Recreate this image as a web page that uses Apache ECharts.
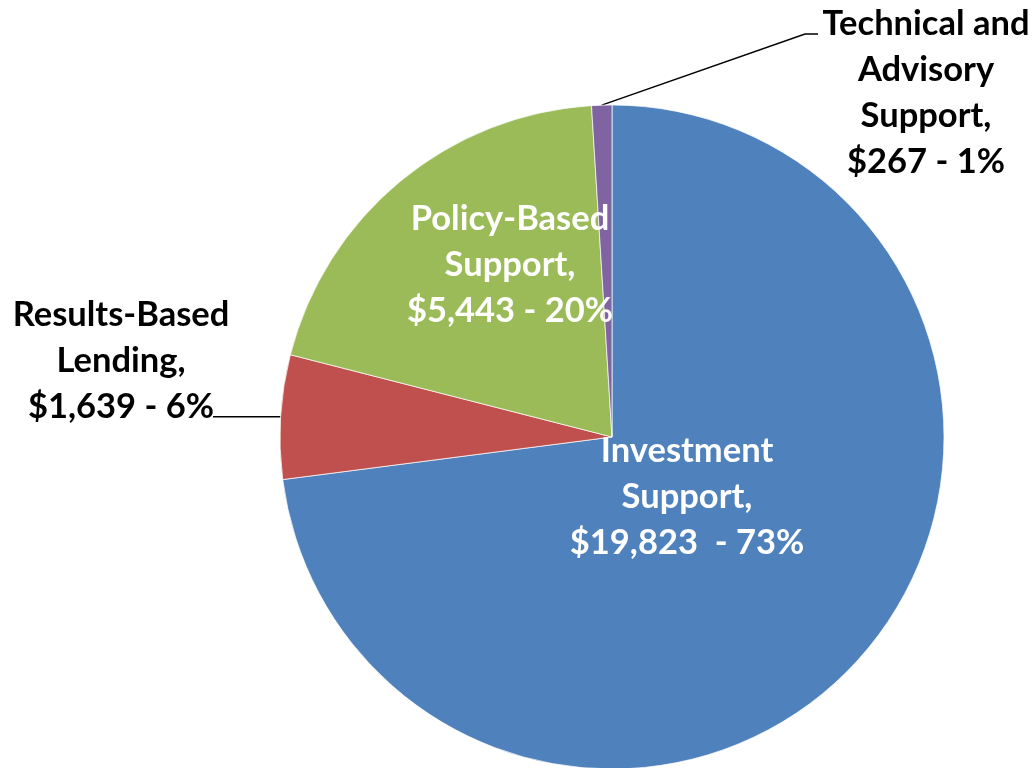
<!DOCTYPE html>
<html>
<head>
<meta charset="utf-8">
<script src="https://cdn.jsdelivr.net/npm/echarts@6/dist/echarts.min.js"></script>
<style>
  html, body { margin: 0; padding: 0; background: #fff; }
  #pie { width: 1035px; height: 768px; }
</style>
</head>
<body>
<div id="pie"></div>
<script>
// slice names, amounts and the shares printed on the labels
const names = ['Investment\nSupport,', 'Results-Based\nLending,', 'Policy-Based\nSupport,', 'Technical and\nAdvisory\nSupport,'];
const amounts = [19823, 1639, 5443, 267];
const amountText = ['$19,823  - 73%', '$1,639 - 6%', '$5,443 - 20%', '$267 - 1%'];
const colors = ['#4F81BD', '#C0504D', '#9BBB59', '#8064A2'];

const chart = echarts.init(document.getElementById('pie'));

// where each label sits (label centre), picked by eye
const labelPos = [[687, 497], [121, 361], [510, 265], [926, 93]];

chart.setOption({
  animation: false,
  series: [
    {
      type: 'pie',
      center: [612, 437],
      radius: 332,
      startAngle: 90,
      clockwise: true,
      avoidLabelOverlap: false,
      data: amounts.map((v, i) => ({
        name: names[i],
        value: v,
        itemStyle: { color: colors[i] },
        label: { color: (i === 0 || i === 2) ? '#fff' : '#000' },
        labelLine: { show: i === 1 || i === 3 }
      })),
      itemStyle: {
        borderColor: 'rgba(255,255,255,0.7)',
        borderWidth: 1
      },
      label: {
        show: true,
        position: 'outside',
        fontFamily: 'Lato',
        fontWeight: 'bold',
        fontSize: 34.5,
        lineHeight: 46,
        align: 'center',
        formatter: p => p.name + '\n' + amountText[p.dataIndex]
      },
      labelLine: {
        lineStyle: { color: '#000', width: 1.5 }
      },
      labelLayout: function (p) {
        const i = p.dataIndex;
        const pos = labelPos[i];
        const res = { x: pos[0], y: pos[1], align: 'center', verticalAlign: 'middle' };
        if (i === 1) {
          const start = p.labelLinePoints ? p.labelLinePoints[0] : [281, 418];
          res.labelLinePoints = [start, [213, start[1]], [213, start[1]]];
        }
        if (i === 3) {
          const start = p.labelLinePoints ? p.labelLinePoints[0] : [601, 105];
          res.labelLinePoints = [start, [805, 34], [818, 34]];
        }
        return res;
      }
    }
  ]
});
</script>
</body>
</html>
